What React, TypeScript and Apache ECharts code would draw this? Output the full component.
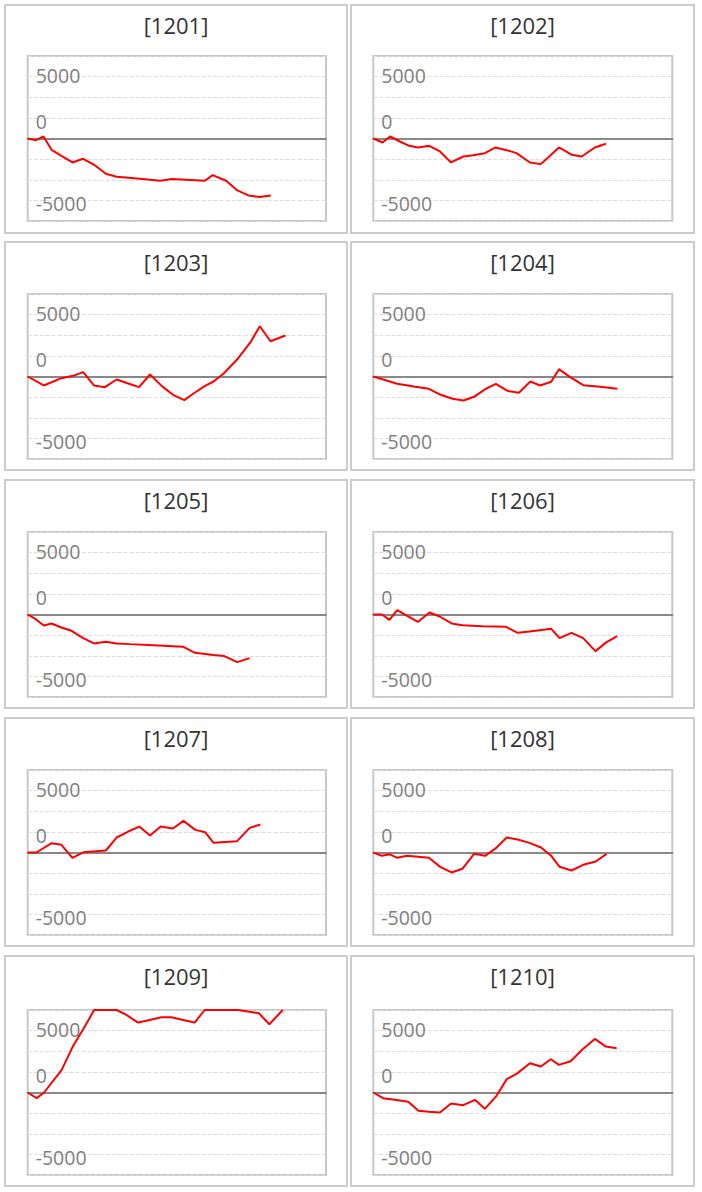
import React, { useEffect, useRef } from "react";
import * as echarts from "echarts";

// Panel names
const panelNames = ["[1201]", "[1202]", "[1203]", "[1204]", "[1205]", "[1206]", "[1207]", "[1208]", "[1209]", "[1210]"];

// Y tick values / labels shown
const yTickValues = [5000, 0, -5000];
const yTickLabels = ["5000", "0", "-5000"];
const yStep = 5000 / 3;
const yMin = -4 * yStep;
const yMax = 4 * yStep;

// Series: [period position (0-100), cumulative value]
const s1201 = [[0, 0], [2.8, -135], [5.3, 161], [8.0, -915], [11.3, -1399], [15.0, -1937], [18.6, -1641], [22.3, -2125], [26.2, -2851], [29.8, -3094], [37.6, -3255], [44.4, -3416], [48.3, -3282], [59.4, -3416], [62.0, -2959], [66.5, -3416], [70.1, -4169], [74.0, -4600], [77.7, -4734], [81.5, -4600]];
const s1202 = [[0, 0], [3.1, -323], [5.6, 161], [8.9, -242], [12.0, -592], [15.0, -726], [18.7, -592], [22.3, -1049], [26.0, -1937], [30.1, -1453], [33.4, -1345], [37.3, -1184], [40.9, -726], [44.6, -942], [47.9, -1184], [52.4, -1937], [56.0, -2071], [59.1, -1399], [62.1, -726], [66.4, -1318], [69.7, -1453], [74.1, -726], [77.8, -430]];
const s1203 = [[0, 0], [5.4, -726], [11.3, -135], [15.2, 54], [18.6, 350], [22.2, -726], [25.9, -861], [29.8, -242], [33.7, -565], [37.3, -861], [41.0, 161], [45.0, -780], [48.7, -1480], [52.5, -1910], [55.6, -1372], [59.3, -780], [62.3, -404], [65.7, 242], [70.2, 1372], [74.7, 2771], [77.8, 4062], [81.4, 2851], [86.4, 3309]];
const s1204 = [[0, 0], [8.0, -592], [14.1, -834], [18.6, -995], [22.5, -1480], [26.5, -1802], [30.2, -1937], [33.7, -1641], [37.6, -995], [41.0, -592], [44.9, -1157], [48.7, -1318], [52.5, -403], [55.8, -726], [59.5, -430], [62.1, 592], [65.7, -27], [70.2, -699], [75.8, -834], [81.6, -995]];
const s1205 = [[0, 0], [2.7, -377], [5.4, -888], [8.0, -726], [11.3, -1049], [14.7, -1318], [18.6, -1910], [22.2, -2340], [26.2, -2206], [29.8, -2340], [34.3, -2394], [42.2, -2475], [52.2, -2610], [56.1, -3094], [62.3, -3282], [65.9, -3363], [70.2, -3847], [74.4, -3524]];
const s1206 = [[0, 0], [2.9, 0], [5.4, -430], [8.0, 350], [11.3, -108], [15.0, -592], [18.8, 161], [22.2, -161], [26.2, -726], [29.8, -861], [36.5, -942], [44.4, -995], [48.3, -1480], [52.2, -1372], [59.5, -1157], [62.3, -1910], [66.3, -1480], [70.2, -1910], [74.3, -2959], [78.0, -2233], [81.6, -1749]];
const s1207 = [[0, 0], [2.9, 0], [8.0, 753], [11.3, 619], [15.0, -430], [18.8, 27], [26.2, 161], [29.8, 1211], [33.7, 1695], [37.4, 2098], [41.0, 1372], [44.6, 2098], [48.7, 1937], [52.2, 2556], [56.2, 1829], [59.5, 1641], [62.3, 780], [70.2, 915], [74.4, 1991], [78.0, 2260]];
const s1208 = [[0, 0], [2.9, -269], [5.4, -135], [8.0, -430], [11.3, -269], [18.6, -430], [22.5, -1184], [26.2, -1614], [29.8, -1318], [33.7, -108], [37.4, -269], [41.0, 350], [44.6, 1211], [48.3, 1049], [52.2, 780], [56.1, 404], [59.5, -269], [62.3, -1157], [66.3, -1453], [70.2, -996], [74.4, -726], [78.0, -108]];
const s1209 = [[0, 0], [3.0, -457], [5.5, 0], [11.4, 1829], [15.1, 3712], [18.6, 5111], [22.3, 6667], [29.8, 6667], [33.1, 6268], [37.0, 5650], [40.9, 5864], [44.8, 6079], [48.2, 6079], [52.1, 5864], [56.0, 5650], [59.3, 6667], [70.5, 6667], [73.8, 6537], [77.5, 6402], [81.0, 5515], [85.5, 6667]];
const s1210 = [[0, 0], [3.3, -457], [7.2, -592], [11.7, -753], [15.1, -1480], [18.5, -1560], [22.3, -1614], [26.0, -888], [30.1, -1022], [34.0, -592], [37.3, -1318], [41.2, -269], [44.6, 1076], [47.9, 1507], [52.4, 2367], [56.0, 2098], [59.4, 2690], [62.1, 2233], [66.0, 2529], [70.0, 3497], [74.1, 4331], [77.8, 3712], [81.4, 3578]];

const allSeries = [s1201, s1202, s1203, s1204, s1205, s1206, s1207, s1208, s1209, s1210];

// Layout
const colPanelX = [5, 351];
const colPanelW = [342, 343];
const rowPanelY = [5, 242, 480, 718, 956];
const rowPanelH = [228, 228, 228, 228, 230];
const colPlotX = [27.7, 373.3];
const colPlotW = [298.3, 299];
const rowPlotY = [56, 294, 532, 770, 1010];
const plotH = 165;

const FONT = "'Open Sans', 'Noto Sans', sans-serif";
const LABEL_COLOR = "#808080";
const LABEL_SIZE = 19.5;

function yLabel(v: number): string {
  for (let i = 0; i < yTickValues.length; i++) {
    if (Math.abs(v - yTickValues[i]) < 1) {
      const t = yTickLabels[i];
      if (yTickValues[i] === 0) return "{up|" + t + "}\n{up| }";
      if (yTickValues[i] < 0) return "{dn| }\n{dn|" + t + "}";
      return "{pl|" + t + "}\n{pl| }";
    }
  }
  return "";
}

export default function App() {
  const ref = useRef<HTMLDivElement>(null);
  useEffect(() => {
    if (!ref.current) return;
    const chart = echarts.init(ref.current, undefined, { renderer: "svg" });
    const grids: any[] = [];
    const xAxes: any[] = [];
    const yAxes: any[] = [];
    const series: any[] = [];
    const graphics: any[] = [];
    allSeries.forEach((data, i) => {
      const col = i % 2;
      const row = Math.floor(i / 2);
      grids.push({
        left: colPlotX[col],
        top: rowPlotY[row],
        width: colPlotW[col],
        height: plotH,
        show: true,
        borderColor: "#c8c8c8",
        borderWidth: 2,
        backgroundColor: "transparent",
      });
      xAxes.push({
        type: "value",
        gridIndex: i,
        min: 0,
        max: 100,
        axisLine: { show: true, onZero: true, lineStyle: { color: "#888888", width: 2 } },
        axisTick: { show: false },
        axisLabel: { show: false },
        splitLine: { show: false },
      });
      yAxes.push({
        type: "value",
        gridIndex: i,
        min: yMin,
        max: yMax,
        interval: yStep,
        axisLine: { show: false },
        axisTick: { show: false },
        splitLine: { show: true, lineStyle: { color: "#dddddd", type: "dashed", width: 1 } },
        axisLabel: {
          inside: true,
          margin: 8,
          color: LABEL_COLOR,
          fontSize: LABEL_SIZE,
          fontFamily: FONT,
          formatter: yLabel,
          rich: {
            pl: { lineHeight: 2, fontSize: LABEL_SIZE, fontFamily: FONT, color: LABEL_COLOR },
            up: { lineHeight: 34, fontSize: LABEL_SIZE, fontFamily: FONT, color: LABEL_COLOR },
            dn: { lineHeight: 6, fontSize: LABEL_SIZE, fontFamily: FONT, color: LABEL_COLOR },
          },
        },
      });
      series.push({
        type: "line",
        xAxisIndex: i,
        yAxisIndex: i,
        data,
        showSymbol: false,
        symbol: "none",
        clip: false,
        lineStyle: { color: "#ff0000", width: 2 },
        itemStyle: { color: "#ff0000" },
        z: 5,
      });
      graphics.push({
        type: "rect",
        shape: { x: colPanelX[col], y: rowPanelY[row], width: colPanelW[col], height: rowPanelH[row] },
        style: { fill: "transparent", stroke: "#cccccc", lineWidth: 2 },
        silent: true,
      });
      graphics.push({
        type: "text",
        x: colPanelX[col] + colPanelW[col] / 2,
        y: rowPanelY[row] + 20,
        style: {
          text: panelNames[i],
          fontSize: 22,
          fontFamily: FONT,
          fill: "#333333",
          align: "center",
          verticalAlign: "middle",
          textAlign: "center",
          textVerticalAlign: "middle",
        },
        silent: true,
      });
    });
    chart.setOption({
      animation: false,
      backgroundColor: "#ffffff",
      grid: grids,
      xAxis: xAxes,
      yAxis: yAxes,
      series,
      graphic: graphics,
    });
    return () => chart.dispose();
  }, []);
  return (
    <div
      ref={ref}
      style={{ position: "absolute", left: 0, top: 0, width: 702, height: 1192, background: "#fff" }}
    />
  );
}
